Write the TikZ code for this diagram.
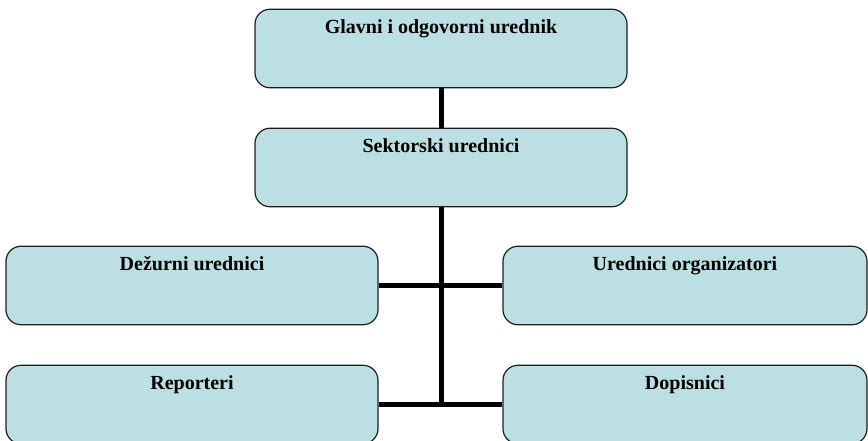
\documentclass[tikz,border=0pt]{standalone}
\usepackage{fontspec}
\setmainfont{Liberation Serif}
\usepackage{tikz}
\usetikzlibrary{positioning}

\definecolor{boxfill}{RGB}{188,223,227}
\definecolor{boxline}{RGB}{30,30,30}

\tikzset{
	unit/.style={draw=boxline, fill=boxfill, line width=1.2pt, rounded corners=15pt,
		minimum width=372pt, inner xsep=0pt, inner ysep=10.5pt,
		text height=13.5pt, text depth=44pt, align=center,
		font=\fontsize{20}{23}\selectfont\bfseries},
	link/.style={line width=5pt},
}

\begin{document}
\begin{tikzpicture}[x=1pt, y=-1pt]
	\useasboundingbox (0,0) rectangle (868,441);
	\node[unit] (glavni) at (441, 48.5) {Glavni i odgovorni urednik};
	\node[unit] (sektorski) at (441, 167.5) {Sektorski urednici};
	\node[unit] (dezurni) at (192, 285.5) {Dežurni urednici};
	\node[unit, minimum width=364pt] (organizatori) at (685, 285.5) {Urednici organizatori};
	\node[unit] (reporteri) at (192, 404.5) {Reporteri};
	\node[unit, minimum width=364pt] (dopisnici) at (685, 404.5) {Dopisnici};
	\coordinate (kraj) at (sektorski.south |- reporteri.east);
	\draw[link] (glavni) -- (sektorski);
	\draw[link] (sektorski) -- (kraj);
	\draw[link] (dezurni) -- (organizatori);
	\draw[link] (reporteri) -- (dopisnici);
\end{tikzpicture}
\end{document}
